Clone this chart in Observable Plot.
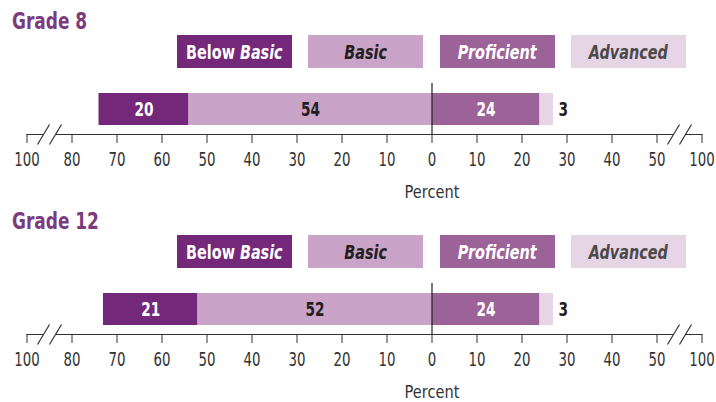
<!DOCTYPE html>
<html><head><meta charset="utf-8">
<script src="https://cdn.jsdelivr.net/npm/d3@7"></script>
<script src="https://cdn.jsdelivr.net/npm/@observablehq/plot@0.6"></script>
<style>
body{margin:0;background:#fff;font-family:"DejaVu Sans Condensed","DejaVu Sans",sans-serif;font-stretch:condensed;}
.section{position:relative;width:716px;height:200px;}
.title{position:absolute;left:12px;top:8px;font-size:23px;font-weight:bold;color:#7b3b7d;transform:scaleX(0.82);transform-origin:left center;white-space:nowrap;}
.box{position:absolute;top:35px;width:115px;height:33px;display:flex;align-items:center;justify-content:center;font-weight:bold;font-size:20px;}
.box span{display:inline-block;transform:scaleX(0.8);white-space:nowrap;}
.section svg{position:absolute;left:0;top:75px;}
</style></head>
<body>
<div id="root"></div>
<script>
const grades = ["Grade 8", "Grade 12"];
const levels = ["Below Basic", "Basic", "Proficient", "Advanced"];
const grade8 = [20, 54, 24, 3];
const grade12 = [21, 52, 24, 3];
const levelColors = ["#74287a", "#c9a3c8", "#9c6399", "#e6d5e5"];
const legendText = ["#ffffff", "#231f20", "#ffffff", "#4a4a4a"];
const legendLeft = [177, 308, 440, 571];
const tickValues = [-90, -80, -70, -60, -50, -40, -30, -20, -10, 0, 10, 20, 30, 40, 50, 60];
const tickLabels = ["100", "80", "70", "60", "50", "40", "30", "20", "10", "0", "10", "20", "30", "40", "50", "100"];
const breakPoints = [-85, 55];
const axisLabel = "Percent";

const font = '"DejaVu Sans Condensed","DejaVu Sans",sans-serif';

const breakFill = {draw(ctx){ ctx.moveTo(-12,10); ctx.lineTo(0,-10); ctx.lineTo(12,-10); ctx.lineTo(0,10); ctx.closePath(); }};
const breakSlash = {draw(ctx){ ctx.moveTo(-12,10); ctx.lineTo(0,-10); ctx.moveTo(0,10); ctx.lineTo(12,-10); }};

function chart(values){
  const [bb, b, p, a] = values;
  const rows = [
    {level: levels[0], x1: -(bb + b), x2: -b, v: bb},
    {level: levels[1], x1: -b, x2: 0, v: b},
    {level: levels[2], x1: 0, x2: p, v: p},
    {level: levels[3], x1: p, x2: p + a, v: a}
  ];
  return Plot.plot({
    width: 716, height: 130,
    marginLeft: 26.5, marginRight: 14.5, marginTop: 18, marginBottom: 71,
    x: {domain: [-90, 60]},
    color: {domain: levels, range: levelColors},
    style: {fontFamily: font, fontSize: "20px", color: "#333", background: "transparent", overflow: "visible"},
    marks: [
      Plot.barX(rows, {x1: "x1", x2: "x2", fill: "level", insetBottom: 9}),
      Plot.ruleX([0], {stroke: "#222", strokeWidth: 1.2, insetTop: -10}),
      Plot.frame({anchor: "bottom", stroke: "#333", strokeWidth: 1.2}),
      Plot.dot(breakPoints, {x: d => d, frameAnchor: "bottom", symbol: breakFill, fill: "white", stroke: "none", r: 5}),
      Plot.dot(breakPoints, {x: d => d, frameAnchor: "bottom", symbol: breakSlash, fill: "none", stroke: "#333", strokeWidth: 1.2, r: 5}),
      Plot.axisX({ticks: tickValues, tickFormat: d => tickLabels[tickValues.indexOf(d)], tickSize: 9, tickPadding: 9, label: null, stroke: "#333", fill: "#333", fontSize: 19.5}),
      Plot.text(rows.filter((d, i) => i === 0 || i === 2), {x: d => (d.x1 + d.x2) / 2, text: d => String(d.v), dy: -4.5, fill: "#fff", fontWeight: "bold", fontSize: 20}),
      Plot.text(rows.filter((d, i) => i === 1), {x: d => (d.x1 + d.x2) / 2, text: d => String(d.v), dy: -4.5, fill: "#231f20", fontWeight: "bold", fontSize: 20}),
      Plot.text(rows.filter((d, i) => i === 3), {x: "x2", text: d => String(d.v), dy: -4.5, dx: 5, textAnchor: "start", fill: "#231f20", fontWeight: "bold", fontSize: 20}),
      Plot.text([axisLabel], {x: 0, text: d => d, frameAnchor: "bottom", dy: 63, fill: "#333", fontSize: 18, className: "axis-label"})
    ]
  });
}

const root = document.getElementById("root");
[grade8, grade12].forEach((vals, gi) => {
  const sec = document.createElement("div");
  sec.className = "section";
  const t = document.createElement("div");
  t.className = "title";
  t.textContent = grades[gi];
  sec.appendChild(t);
  levels.forEach((lv, i) => {
    const bx = document.createElement("div");
    bx.className = "box";
    bx.style.left = legendLeft[i] + "px";
    bx.style.background = levelColors[i];
    bx.style.color = legendText[i];
    const sp = document.createElement("span");
    if (i === 0) {
      const parts = lv.split(" ");
      sp.appendChild(document.createTextNode(parts[0] + "\u00a0"));
      const it = document.createElement("i");
      it.textContent = parts[1];
      sp.appendChild(it);
    } else {
      const it = document.createElement("i");
      it.textContent = lv;
      sp.appendChild(it);
    }
    bx.appendChild(sp);
    sec.appendChild(bx);
  });
  const svg = chart(vals);
  sec.appendChild(svg);
  root.appendChild(sec);
  // condensed lettering, like the reference's narrow typeface
  svg.querySelectorAll("text").forEach(el => {
    const L = el.getComputedTextLength();
    const isLabel = el.textContent === axisLabel;
    if (L > 0) {
      el.setAttribute("textLength", (L * (isLabel ? 0.9 : 0.76)).toFixed(2));
      el.setAttribute("lengthAdjust", "spacingAndGlyphs");
    }
  });
});
</script>
</body></html>
